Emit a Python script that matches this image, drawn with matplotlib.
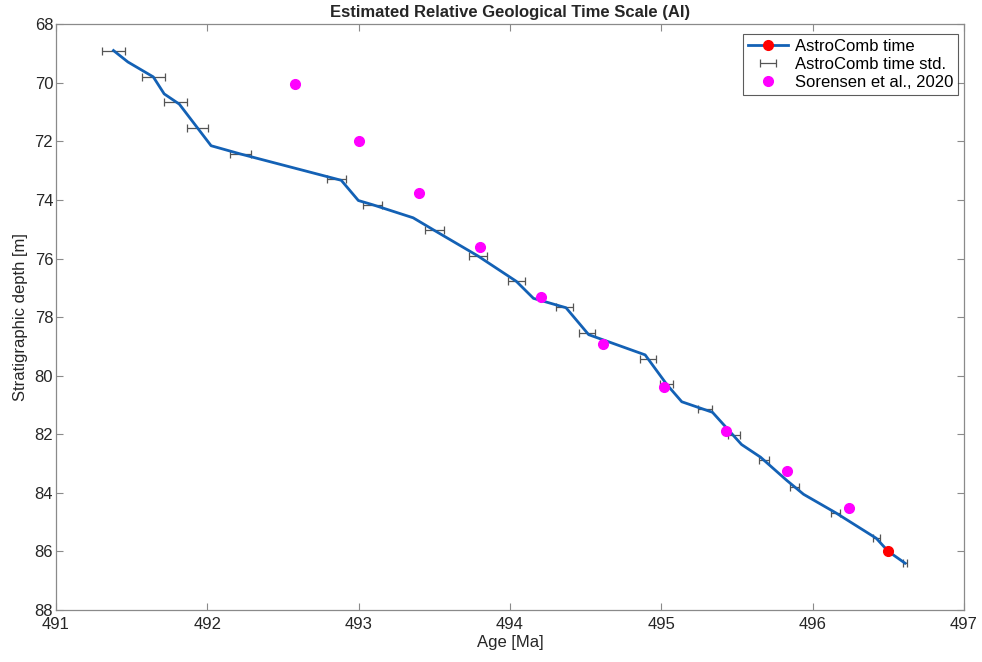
import matplotlib.pyplot as plt
from matplotlib.lines import Line2D

plt.rcParams["font.family"] = ["Liberation Sans", "DejaVu Sans"]
plt.rcParams["font.size"] = 12

# AstroComb age model (age in Ma vs stratigraphic depth in m)
comb_age = [491.38, 491.475, 491.643, 491.715, 491.815, 492.025, 492.218, 492.885,
            492.998, 493.09, 493.36, 493.50, 493.787, 494.042, 494.155, 494.37,
            494.52, 494.893, 495.036, 495.135, 495.338, 495.53, 495.655, 495.83,
            495.94, 496.152, 496.42, 496.45, 496.5, 496.61]
comb_depth = [68.9, 69.29, 69.8, 70.38, 70.73, 72.15, 72.43, 73.33,
              74.02, 74.16, 74.61, 75.04, 75.91, 76.78, 77.36, 77.68,
              78.6, 79.29, 80.30, 80.89, 81.25, 82.35, 82.78, 83.58,
              84.05, 84.68, 85.55, 85.72, 86.0, 86.4]
anchor_idx = 28  # tie point at 496.5 Ma

# standard deviation of the age estimate at each sampled depth
std_age = [491.38, 491.643, 491.79, 491.935, 492.218, 492.853, 493.09, 493.50,
           493.787, 494.042, 494.36, 494.51, 494.91, 495.036, 495.29, 495.48,
           495.678, 495.88, 496.152, 496.42, 496.61]
std_depth = [68.9, 69.8, 70.66, 71.55, 72.43, 73.28, 74.16, 75.04,
             75.91, 76.78, 77.67, 78.53, 79.42, 80.30, 81.15, 82.04,
             82.89, 83.79, 84.68, 85.55, 86.41]
std_err = [0.075, 0.075, 0.074, 0.072, 0.068, 0.064, 0.063, 0.062,
           0.060, 0.056, 0.055, 0.052, 0.052, 0.044, 0.046, 0.038,
           0.036, 0.030, 0.030, 0.022, 0.014]

# Sorensen et al., 2020
sor_age = [492.58, 493.0, 493.4, 493.8, 494.205, 494.615, 495.02, 495.427, 495.83, 496.237]
sor_depth = [70.05, 72.0, 73.77, 75.6, 77.33, 78.91, 80.37, 81.9, 83.24, 84.52]

BLUE = "#1361b5"
EDGE = "#8a8a8a"
TXT = "#262626"

fig = plt.figure(figsize=(9.82, 6.62), dpi=100)
ax = fig.add_axes([0.057, 0.0785, 0.9247, 0.885])

eb = ax.errorbar(std_age, std_depth, xerr=std_err, fmt="none", ecolor="#555555",
                 elinewidth=0.9, capsize=3, capthick=0.9, zorder=2)
ax.plot(comb_age, comb_depth, color=BLUE, lw=2, zorder=3)
ax.plot([comb_age[anchor_idx]], [comb_depth[anchor_idx]], "o", color="red",
        ms=7, zorder=5)
ax.plot(sor_age, sor_depth, "o", color="magenta", ms=7, lw=0, zorder=4)

ax.set_xlim(491, 497)
ax.set_ylim(88, 68)
ax.set_xticks(range(491, 498))
ax.set_yticks(range(68, 89, 2))
ax.tick_params(direction="in", top=True, right=True, length=5, width=0.8,
               color=EDGE, labelcolor=TXT, labelsize=12)
ax.tick_params(axis="x", pad=5)
ax.tick_params(axis="y", pad=2)
for s in ax.spines.values():
    s.set_color(EDGE)
    s.set_linewidth(0.9)

ax.set_xlabel("Age [Ma]", color=TXT, labelpad=2)
ax.set_ylabel("Stratigraphic depth [m]", color=TXT, labelpad=5)
ax.set_title("Estimated Relative Geological Time Scale (AI)", fontweight="bold",
             color=TXT, fontsize=12, pad=5)

h_comb = Line2D([], [], color=BLUE, lw=2, marker="o", mfc="red", mec="red", ms=7)
h_sor = Line2D([], [], color="magenta", marker="o", lw=0, ms=7)
leg = ax.legend([h_comb, eb, h_sor],
                ["AstroComb time", "AstroComb time std.", "Sorensen et al., 2020"],
                loc="upper right", bbox_to_anchor=(0.9935, 0.984), fontsize=12,
                frameon=True, fancybox=False, edgecolor="#333333",
                handlelength=2.4, handletextpad=0.4, borderpad=0.3,
                labelspacing=0.2, borderaxespad=0)
leg.get_frame().set_linewidth(0.8)

fig.savefig("out.png", dpi=100)
